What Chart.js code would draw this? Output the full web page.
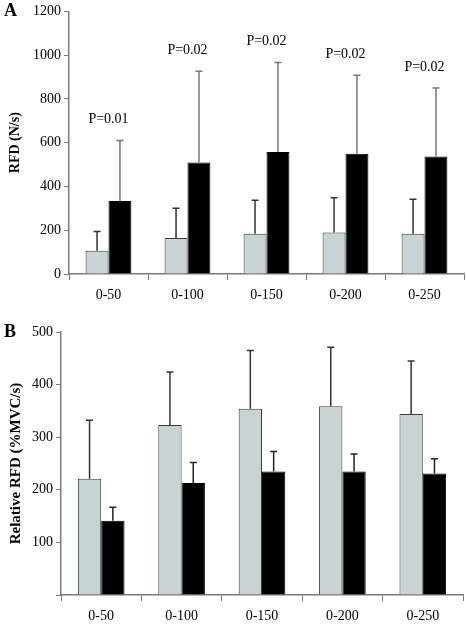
<!DOCTYPE html>
<html>
<head>
<meta charset="utf-8">
<script src="https://cdn.jsdelivr.net/npm/chart.js@4"></script>
<style>
    body { margin: 0; background: #fff; }
    .panel { position: absolute; left: 0; width: 466px; }
    .panel-a { top: 0; height: 306px; }
    .panel-b { top: 306px; height: 320px; }
</style>
</head>
<body>
<div class="panel panel-a"><canvas class="chart-a" width="466" height="306"></canvas></div>
<div class="panel panel-b"><canvas class="chart-b" width="466" height="320"></canvas></div>
<script>
const categories = ["0-50", "0-100", "0-150", "0-200", "0-250"];

// panel A, RFD (N/s)
const rfdGrey = [106, 164, 184, 190, 184];
const rfdGreySd = [88, 136, 153, 159, 158];
const rfdBlack = [334, 510, 558, 549, 537];
const rfdBlackSd = [276, 416, 409, 359, 313];
const pLabels = ["P=0.01", "P=0.02", "P=0.02", "P=0.02", "P=0.02"];
const rfdTicks = [0, 200, 400, 600, 800, 1000, 1200];

// panel B, relative RFD (%MVC/s)
const relGrey = [221, 323, 354, 359, 344];
const relGreySd = [111, 101, 111, 112, 101];
const relBlack = [141, 213, 235, 235, 231];
const relBlackSd = [26, 39, 38, 33, 28];
const relTicks = [0, 100, 200, 300, 400, 500];

const FONT = "'Liberation Serif', 'DejaVu Serif', serif";
const AXIS = "#7a7a7a";

const errorBars = {
    id: "errorBars",
    afterDatasetsDraw(chart, args, opts) {
        let ctx = chart.ctx;
        let y = chart.scales.y;
        chart.data.datasets.forEach((ds, i) => {
            let meta = chart.getDatasetMeta(i);
            ctx.save();
            ctx.strokeStyle = ds.errColor;
            ctx.lineWidth = 1.5;
            meta.data.forEach((bar, j) => {
                let top = y.getPixelForValue(ds.data[j] + ds.sd[j]);
                ctx.beginPath();
                ctx.moveTo(bar.x, bar.y);
                ctx.lineTo(bar.x, top);
                ctx.moveTo(bar.x - 3.5, top);
                ctx.lineTo(bar.x + 3.5, top);
                ctx.stroke();
            });
            ctx.restore();
        });
    }
};

const extras = {
    id: "extras",
    afterDraw(chart, args, opts) {
        let ctx = chart.ctx;
        ctx.save();
        ctx.fillStyle = "#000";
        ctx.font = "bold 18px " + FONT;
        ctx.textBaseline = "middle";
        ctx.textAlign = "left";
        ctx.fillText(opts.letter, 4, chart.chartArea.top);
        if (opts.pLabels) {
            let x = chart.scales.x;
            let y = chart.scales.y;
            let ds = chart.data.datasets[1];
            ctx.font = "14px " + FONT;
            ctx.textAlign = "center";
            opts.pLabels.forEach((txt, j) => {
                let top = y.getPixelForValue(ds.data[j] + ds.sd[j]);
                ctx.fillText(txt, x.getPixelForValue(j), top - 21);
            });
        }
        ctx.restore();
    }
};

function makeChart(canvas, cfg) {
    return new Chart(canvas, {
        type: "bar",
        data: {
            labels: categories,
            datasets: [
                { data: cfg.grey, sd: cfg.greySd, backgroundColor: "#c8d4d4", borderColor: "#3a3a3a", borderWidth: 1, errColor: "#333", borderSkipped: "bottom" },
                { data: cfg.black, sd: cfg.blackSd, backgroundColor: "#000", borderColor: "#000", borderWidth: 1, errColor: cfg.blackErr, borderSkipped: "bottom" }
            ]
        },
        options: {
            responsive: false,
            animation: false,
            layout: { padding: { top: cfg.top, right: cfg.right, left: 0, bottom: 0 } },
            datasets: { bar: { categoryPercentage: 0.58, barPercentage: 1 } },
            scales: {
                x: {
                    afterFit: s => { s.height = cfg.xHeight; },
                    grid: { offset: true, drawOnChartArea: false, drawTicks: true, tickLength: 6, color: AXIS },
                    border: { color: AXIS, width: 1.5 },
                    ticks: { color: "#000", padding: 7, font: { family: FONT, size: 14 } }
                },
                y: {
                    min: cfg.ticks[0],
                    max: cfg.ticks[cfg.ticks.length - 1],
                    afterFit: s => { s.width = cfg.yWidth; },
                    afterBuildTicks: s => { s.ticks = cfg.ticks.map(v => ({ value: v })); },
                    grid: { drawOnChartArea: false, drawTicks: true, tickLength: 5, color: AXIS },
                    border: { color: AXIS, width: 1.5 },
                    ticks: {
                        color: "#000", padding: 3,
                        font: { family: FONT, size: 14 },
                        callback: v => (cfg.hideZero && v === 0) ? "" : v
                    },
                    title: {
                        display: true, text: cfg.title, color: "#000",
                        padding: { top: 7, bottom: 0 },
                        font: { family: FONT, size: cfg.titleSize, weight: "bold" }
                    }
                }
            },
            plugins: {
                legend: { display: false },
                tooltip: { enabled: false },
                extras: { letter: cfg.letter, pLabels: cfg.pLabels }
            }
        },
        plugins: [errorBars, extras]
    });
}

makeChart(document.querySelector(".chart-a"), {
    grey: rfdGrey, greySd: rfdGreySd, black: rfdBlack, blackSd: rfdBlackSd,
    blackErr: "#777", ticks: rfdTicks, title: "RFD (N/s)", titleSize: 14,
    letter: "A", pLabels: pLabels,
    top: 11, right: 2, yWidth: 69, xHeight: 32, hideZero: false
});

makeChart(document.querySelector(".chart-b"), {
    grey: relGrey, greySd: relGreySd, black: relBlack, blackSd: relBlackSd,
    blackErr: "#222", ticks: relTicks, title: "Relative RFD (%MVC/s)", titleSize: 15,
    letter: "B", pLabels: null,
    top: 26, right: 3, yWidth: 61, xHeight: 31, hideZero: true
});
</script>
</body>
</html>
